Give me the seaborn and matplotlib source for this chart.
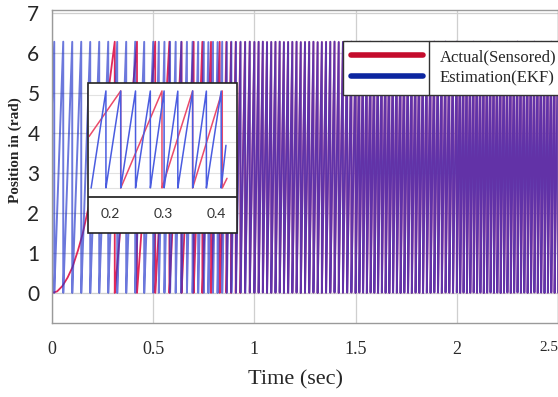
import numpy as np
import pandas as pd
import seaborn as sns
import matplotlib.pyplot as plt
from matplotlib.lines import Line2D
from matplotlib.patches import Rectangle

# Main plot: accumulated revolutions at key times (counted from the sawtooth teeth)
t_actual = [0.0, 0.025, 0.05, 0.075, 0.10, 0.125, 0.15, 0.175, 0.20, 0.225, 0.25, 0.28, 0.31,
            0.42, 0.51, 0.58, 0.70, 0.85, 1.0, 1.5, 2.0, 2.5, 2.6]
rev_actual = [0.0, 0.006, 0.026, 0.058, 0.10, 0.16, 0.23, 0.32, 0.41, 0.52, 0.65, 0.81, 1.0,
              2.0, 3.0, 4.0, 6.0, 9.5, 16.0, 40.0, 67.0, 97.0, 103.0]
t_ekf = [0.0, 0.5, 0.75, 1.0, 1.5, 2.0, 2.5, 2.6]
rev_ekf = [0.75, 12.0, 21.0, 32.0, 56.0, 83.0, 113.0, 119.0]

# Inset (0.16 - 0.42 s): times of the tooth tops
inset_t_actual = [0.159, 0.219, 0.297, 0.355, 0.411, 0.420]
inset_rev_actual = [0.53, 1.0, 2.0, 3.0, 4.0, 4.1]
inset_t_ekf = [0.163, 0.191, 0.219, 0.247, 0.275, 0.301, 0.327, 0.355, 0.381, 0.409, 0.418]
inset_rev_ekf = [0.0, 1.0, 2.0, 3.0, 4.0, 5.0, 6.0, 7.0, 8.0, 9.0, 9.44]

x_ticks = [0, 0.5, 1, 1.5, 2, 2.5]
x_labels = ["0", "0.5", "1", "1.5", "2", "2.5"]
y_ticks = [0, 1, 2, 3, 4, 5, 6, 7]
inset_ticks = [0.2, 0.3, 0.4]

RED = "#e0285a"
BLUE = "#2638cc"


def wrapped(tk, rk, n):
    t = np.linspace(tk[0], tk[-1], n)
    ang = np.interp(t, tk, rk) * 2 * np.pi
    return t, np.mod(ang, 2 * np.pi)


def frame(tk, rk, n, name):
    t, p = wrapped(tk, rk, n)
    return pd.DataFrame({"t": t, "pos": p, "series": name})


sns.set_theme(style="white")
plt.rcParams["font.family"] = ["Liberation Serif", "DejaVu Serif"]

W, H = 558, 397
fig = plt.figure(figsize=(W / 100, H / 100), dpi=100)
ax = fig.add_axes([52 / W, 1 - 323 / H, (W - 52) / W, (323 - 10) / H])

main = pd.concat([frame(t_actual, rev_actual, 60000, "Actual(Sensored)"),
                  frame(t_ekf, rev_ekf, 60000, "Estimation(EKF)")])
sns.lineplot(data=main[main.series == "Actual(Sensored)"], x="t", y="pos", ax=ax,
             color=RED, lw=1.3, sort=False, estimator=None, legend=False)
sns.lineplot(data=main[main.series == "Estimation(EKF)"], x="t", y="pos", ax=ax,
             color=BLUE, lw=1.4, alpha=0.68, sort=False, estimator=None, legend=False)

ax.set_xlim(0, 2.5)
ax.set_ylim(-0.75, 7.075)
ax.set_xticks(x_ticks)
ax.set_xticklabels(x_labels, fontsize=13, color="#2a2a2a")
last = ax.get_xticklabels()[-1]
last.set_fontsize(11)
last.set_horizontalalignment("right")
ax.set_yticks(y_ticks)
ax.set_yticklabels([str(v) for v in y_ticks], fontsize=15, family="Lato")
ax.tick_params(axis="x", length=0, pad=13)
ax.tick_params(axis="y", length=0, pad=9)
ax.grid(True, color="#cfcfcf", lw=0.9)
ax.set_axisbelow(True)
for s in ax.spines.values():
    s.set_color("#9a9a9a")
    s.set_linewidth(1.0)
ax.set_xlabel("")
ax.set_ylabel("")

fig.text(295 / W, 1 - 380 / H, "Time (sec)", ha="center", va="center", fontsize=16)
fig.text(15 / W, 1 - 150 / H, "Position in (rad)", ha="center", va="center",
         rotation=90, fontsize=11, fontweight="bold")

handles = [Line2D([], [], color="#c40c2c", lw=4),
           Line2D([], [], color="#0c26a0", lw=4)]
leg = ax.legend(handles, ["Actual(Sensored)", "Estimation(EKF)"],
                loc="upper left", bbox_to_anchor=(343 / W, 1 - 41 / H),
                bbox_transform=fig.transFigure, borderaxespad=0,
                fontsize=12, handlelength=4.3, handletextpad=1.0,
                labelspacing=0.3, borderpad=0.5, fancybox=False,
                framealpha=1, edgecolor="#333333")
leg.get_frame().set_linewidth(1.0)
fig.add_artist(Line2D([429 / W, 429 / W], [1 - 41 / H, 1 - 95 / H],
                      transform=fig.transFigure, color="#333333", lw=1.0, zorder=6))

# Inset box with its own tick label band
fig.add_artist(Rectangle((88 / W, 1 - 233 / H), 149 / W, 150 / H,
                         transform=fig.transFigure, facecolor="white",
                         edgecolor="#222222", lw=1.2, zorder=2))
ax_in = fig.add_axes([89 / W, 1 - 197 / H, 147 / W, 113 / H], zorder=3)
ax_in.patch.set_facecolor("white")
inset = pd.concat([frame(inset_t_actual, inset_rev_actual, 4000, "Actual(Sensored)"),
                   frame(inset_t_ekf, inset_rev_ekf, 4000, "Estimation(EKF)")])
sns.lineplot(data=inset[inset.series == "Actual(Sensored)"], x="t", y="pos", ax=ax_in,
             color="#ea4a6a", lw=1.1, sort=False, estimator=None, legend=False)
sns.lineplot(data=inset[inset.series == "Estimation(EKF)"], x="t", y="pos", ax=ax_in,
             color="#4a5ce0", lw=1.1, sort=False, estimator=None, legend=False)
ax_in.set_xlim(0.159, 0.437)
ax_in.set_ylim(-0.58, 6.73)
ax_in.set_xticks(inset_ticks)
ax_in.set_xticklabels(["0.2", "0.3", "0.4"], fontsize=10, family="Lato", color="#333333")
ax_in.set_yticks(range(0, 7))
ax_in.set_yticklabels([])
ax_in.tick_params(length=0, pad=8)
ax_in.grid(True, axis="y", color="#e2e2e2", lw=0.8)
ax_in.set_axisbelow(True)
ax_in.set_xlabel("")
ax_in.set_ylabel("")
for name, s in ax_in.spines.items():
    s.set_visible(name == "bottom")
ax_in.spines["bottom"].set_color("#222222")

fig.savefig("out.png", dpi=100)
